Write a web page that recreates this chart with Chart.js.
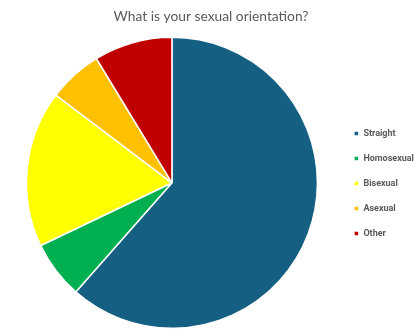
<!DOCTYPE html>
<html>
<head>
<meta charset="utf-8">
<script src="https://cdn.jsdelivr.net/npm/chart.js@4"></script>
<style>
  html, body { margin: 0; padding: 0; background: #fff; }
  #wrap { width: 419px; height: 336px; }
</style>
</head>
<body>
<div id="wrap"><canvas id="pieChart"></canvas></div>
<script>
const labels = ['Straight', 'Homosexual', 'Bisexual', 'Asexual', 'Other'];
const shares = [61.5, 6.4, 17.4, 6.0, 8.7];
const colors = ['#156082', '#00b050', '#ffff00', '#ffc000', '#c00000'];

const ctx = document.getElementById('pieChart').getContext('2d');

// nudge title and legend boxes to where Excel put them
const nudgeBoxes = {
  id: 'nudgeBoxes',
  afterLayout(chart) {
    const lg = chart.legend;
    if (lg) {
      lg.left += 5; lg.right += 5;
      lg.top += 19; lg.bottom += 19;
    }
    const tb = chart.titleBlock;
    if (tb) {
      tb.left -= 4; tb.right -= 4;
    }
  }
};

new Chart(ctx, {
  type: 'pie',
  data: {
    labels: labels,
    datasets: [{
      data: shares,
      backgroundColor: colors,
      borderColor: '#ffffff',
      borderWidth: 1.5
    }]
  },
  options: {
    responsive: true,
    maintainAspectRatio: false,
    animation: false,
    layout: {
      padding: { left: 11, right: 0, top: 0, bottom: 7 }
    },
    plugins: {
      title: {
        display: true,
        text: 'What is your sexual orientation?',
        color: '#595959',
        font: { family: 'Lato', size: 13.8, weight: 'normal' },
        padding: { top: 8, bottom: 12 }
      },
      legend: {
        position: 'right',
        labels: {
          color: '#595959',
          font: { family: 'Roboto', size: 9, weight: 'bold' },
          boxWidth: 5,
          boxHeight: 5,
          padding: 16
        }
      },
      tooltip: { enabled: false }
    }
  },
  plugins: [nudgeBoxes]
});
</script>
</body>
</html>
